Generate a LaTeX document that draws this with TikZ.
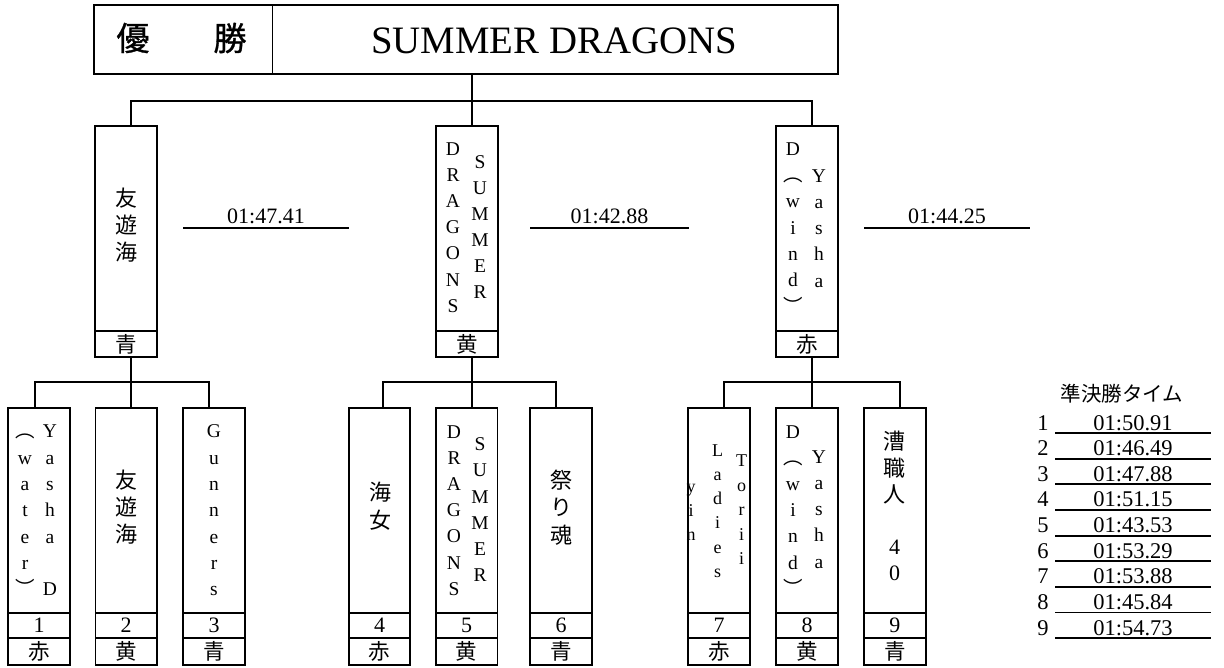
\documentclass[tikz,border=0pt]{standalone}
\usepackage{fontspec}
\setmainfont{Liberation Serif}
\newfontfamily\jp{Noto Sans CJK JP}
\newfontfamily\jpb[FakeBold=1]{Noto Sans CJK JP}
\newcommand\vs{\strut}
\begin{document}
\begin{tikzpicture}[x=1pt,y=-1pt,line width=1.9pt,
  box/.style={draw,rectangle,inner sep=0pt,line width=1.9pt},
  lat/.style={font=\fontsize{19.5}{#1}\selectfont,inner sep=0pt,align=center},
  lat/.default=26.3,
  cjk/.style={font=\jp\fontsize{22}{#1}\selectfont,inner sep=0pt,align=center},
  cjk/.default=26,
  num/.style={font=\fontsize{22}{24}\selectfont,inner sep=0pt},
  colr/.style={font=\jp\fontsize{21.5}{24}\selectfont,inner sep=0pt},
  tim/.style={font=\fontsize{22}{24}\selectfont,inner sep=0pt,anchor=base},
  ttab/.style={font=\fontsize{22.5}{24}\selectfont,inner sep=0pt,anchor=base}]
\useasboundingbox (0,0) rectangle (1224,668);

% ---------- title ----------
\node[box,minimum width=744,minimum height=69] (title) at (466,39.5) {};
\draw (272.5,5) -- (272.5,74);
\node[font=\jpb\fontsize{33}{36}\selectfont,inner sep=0pt] (yu) at (133,38) {優};
\node[font=\jpb\fontsize{33}{36}\selectfont,inner sep=0pt] (sho) at (230,38) {勝};
\node[font=\fontsize{38.8}{40}\selectfont,inner sep=0pt,anchor=base] (champ) at (554,53.3) {SUMMER DRAGONS};

% ---------- semifinal boxes ----------
\newcommand\semibox[3]{%
  \node[box,minimum width=62.5,minimum height=231.3] (#1) at (#2,241.35) {};
  \draw ({#2-31.25},330.7) -- ({#2+31.25},330.7);
  \node[colr] (#1k) at (#2,344) {#3};}
\semibox{s1}{125.8}{青}
\semibox{s2}{466.9}{黄}
\semibox{s3}{806.9}{赤}

\node[cjk=25] (s1a) at (126.7,228) {\vs 友\\\vs 遊\\\vs 海};
\node[lat=26.2] (s2a) at (453,228.5) {\vs D\\\vs R\\\vs A\\\vs G\\\vs O\\\vs N\\\vs S};
\node[lat=26] (s2b) at (480,228) {\vs S\\\vs U\\\vs M\\\vs M\\\vs E\\\vs R};
\node[lat=26.3] (s3a) at (793,229) {\vs D\\\vs{\jp ︵}\\\vs w\\\vs i\\\vs n\\\vs d\\\vs{\jp ︶}};
\node[lat=26.2] (s3b) at (819,229.5) {\vs Y\\\vs a\\\vs s\\\vs h\\\vs a};

% semifinal times
\node[tim] (t1) at (266,224) {01:47.41};
\node[tim] (t2) at (609.5,224) {01:42.88};
\node[tim] (t3) at (947,224) {01:44.25};
\draw (183,228) -- (349,228);
\draw (530,228) -- (689,228);
\draw (864,228) -- (1030,228);

% ---------- first round boxes ----------
\newcommand\roundbox[4]{%
  \node[box,minimum width=61.5,minimum height=256.7] (#1) at (#2,536.65) {};
  \draw ({#2-30.75},612.7) -- ({#2+30.75},612.7);
  \draw ({#2-30.75},638.3) -- ({#2+30.75},638.3);
  \node[num] (#1n) at (#2,625.5) {#3};
  \node[colr] (#1k) at (#2,651.5) {#4};}
\roundbox{bA}{39}{1}{赤}
\roundbox{bB}{126.2}{2}{黄}
\roundbox{bC}{214}{3}{青}
\roundbox{bD}{379.5}{4}{赤}
\roundbox{bE}{466.7}{5}{黄}
\roundbox{bF}{561}{6}{青}
\roundbox{bG}{719}{7}{赤}
\roundbox{bH}{807}{8}{黄}
\roundbox{bI}{894.9}{9}{青}

\node[lat] (a1) at (50,511.5) {\vs Y\\\vs a\\\vs s\\\vs h\\\vs a\\\vs\\\vs D};
\node[lat] (a2) at (25,511.5) {\vs{\jp ︵}\\\vs w\\\vs a\\\vs t\\\vs e\\\vs r\\\vs{\jp ︶}};
\node[cjk=27] (b1) at (126.5,510) {\vs 友\\\vs 遊\\\vs 海};
\node[lat] (c1) at (214,511.5) {\vs G\\\vs u\\\vs n\\\vs n\\\vs e\\\vs r\\\vs s};
\node[cjk=28] (d1) at (380,509) {\vs 海\\\vs 女};
\node[lat=26.2] (e1) at (454,511.5) {\vs D\\\vs R\\\vs A\\\vs G\\\vs O\\\vs N\\\vs S};
\node[lat=26.2] (e2) at (480,511) {\vs S\\\vs U\\\vs M\\\vs M\\\vs E\\\vs R};
\node[cjk=27.5] (f1) at (561,510) {\vs 祭\\\vs り\\\vs 魂};
\node[font=\fontsize{18}{24}\selectfont,inner sep=0pt,align=center] (g1) at (691,512) {\vs y\\\vs i\\\vs n};
\node[font=\fontsize{18}{24.2}\selectfont,inner sep=0pt,align=center] (g2) at (717.5,512) {\vs L\\\vs a\\\vs d\\\vs i\\\vs e\\\vs s};
\node[font=\fontsize{18}{24.5}\selectfont,inner sep=0pt,align=center] (g3) at (741.5,511) {\vs T\\\vs o\\\vs r\\\vs i\\\vs i};
\node[lat=26.2] (h1) at (793,511.5) {\vs D\\\vs{\jp ︵}\\\vs w\\\vs i\\\vs n\\\vs d\\\vs{\jp ︶}};
\node[lat=26.2] (h2) at (819,510.5) {\vs Y\\\vs a\\\vs s\\\vs h\\\vs a};
\node[cjk=26] (i1) at (894.5,510) {\vs 漕\\\vs 職\\\vs 人\\\vs\\\vs{\rmfamily 4}\\\vs{\rmfamily 0}};

% ---------- connectors ----------
\coordinate (jT) at (471.7,100.7);
\coordinate (xs1) at (130.7,0);
\coordinate (xs3) at (811.7,0);
\draw (title.south -| jT) -- (s2.north -| jT);
\draw (s1.north -| xs1) |- (jT) -| (s3.north -| xs3);

\coordinate (j1) at (130.7,382.3);
\coordinate (xa) at (34.7,0);
\coordinate (xc) at (209,0);
\draw (s1.south -| j1) -- (bB.north -| j1);
\draw (bA.north -| xa) |- (j1) -| (bC.north -| xc);

\coordinate (j2) at (471.7,382.3);
\coordinate (xd) at (383.3,0);
\coordinate (xf) at (556,0);
\draw (s2.south -| j2) -- (bE.north -| j2);
\draw (bD.north -| xd) |- (j2) -| (bF.north -| xf);

\coordinate (j3) at (811.7,382.3);
\coordinate (xg) at (724.3,0);
\coordinate (xi) at (900,0);
\draw (s3.south -| j3) -- (bH.north -| j3);
\draw (bG.north -| xg) |- (j3) -| (bI.north -| xi);

% ---------- semifinal time table ----------
\node[font=\jp\fontsize{20.5}{24}\selectfont,inner sep=0pt] (hdr) at (1122,394) {準決勝タイム};
\foreach \i/\t in {1/01:50.91,2/01:46.49,3/01:47.88,4/01:51.15,5/01:43.53,6/01:53.29,7/01:53.88,8/01:45.84,9/01:54.73}{
  \pgfmathsetmacro\yy{433+25.65*(\i-1)}
  \node[ttab] (tn\i) at (1043,{\yy-3}) {\i};
  \node[ttab] (tt\i) at (1133,{\yy-3}) {\t};
  \draw[line width=1.8pt] (1055,\yy) -- (1211,\yy);
}
\end{tikzpicture}
\end{document}
